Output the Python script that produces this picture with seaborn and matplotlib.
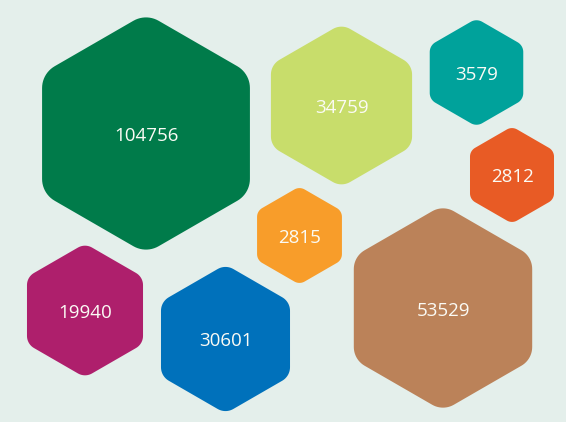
import numpy as np
import matplotlib
matplotlib.use('Agg')
import matplotlib.pyplot as plt
from matplotlib.patches import Polygon
import seaborn as sns

# values shown in the hexagons
values = [104756, 34759, 3579, 2812, 2815, 53529, 19940, 30601]
colors = ['#007b4a', '#c8dd6b', '#00a29b', '#e85b25',
          '#f89d2a', '#bb8259', '#ae1f6c', '#0071bb']

# packed layout (pixel space): centres and circumradius of each hexagon
cx = [146, 341.5, 476.5, 512, 299.5, 443, 85, 225.5]
cy = [133.5, 105.5, 72.5, 175, 235.5, 308, 310.5, 339]
radius = [120, 81.5, 54, 48.5, 49, 103, 67, 74.5]

bg = '#e4efeb'
sns.set_theme(style='white', rc={'axes.facecolor': bg, 'figure.facecolor': bg})
plt.rcParams['font.family'] = ['Open Sans', 'DejaVu Sans']


def rounded_hex(x0, y0, R, frac=0.21, n=12):
    # pointy-top hexagon with rounded corners
    r = frac * R
    d = R - r / np.cos(np.radians(30))  # distance to the corner-arc centre
    pts = []
    for k in range(6):
        a = np.radians(90 + 60 * k)
        ax_, ay_ = x0 + d * np.cos(a), y0 - d * np.sin(a)
        for t in np.linspace(a - np.radians(30), a + np.radians(30), n):
            pts.append((ax_ + r * np.cos(t), ay_ - r * np.sin(t)))
    return pts


fig, ax = plt.subplots(figsize=(5.66, 4.22), dpi=100)
fig.subplots_adjust(0, 0, 1, 1)
pal = sns.color_palette(colors)

for v, c, x, y, R in zip(values, pal, cx, cy, radius):
    ax.add_patch(Polygon(rounded_hex(x, y, R), closed=True, facecolor=c,
                         edgecolor='none'))
    ax.text(x, y + 2.5, str(v), ha='center', va='center', color='#fbfbf5',
            fontsize=13.5)

ax.set_xlim(0, 566)
ax.set_ylim(422, 0)
ax.set_aspect('equal')
ax.axis('off')

plt.savefig('out.png', dpi=100, facecolor=bg)
